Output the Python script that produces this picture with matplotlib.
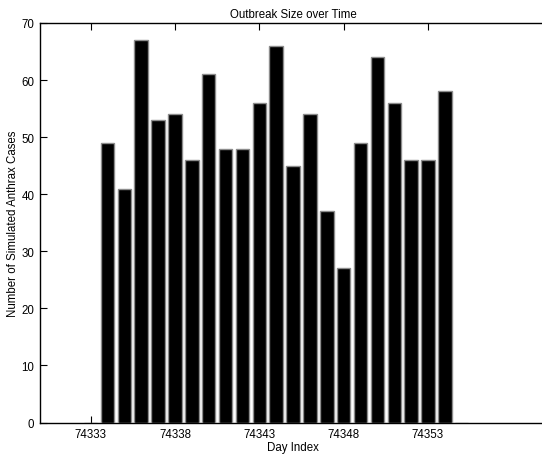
import matplotlib
matplotlib.use("Agg")
import matplotlib.pyplot as plt

days = list(range(74333, 74356))
cases = [0, 49, 41, 67, 53, 54, 46, 61, 48, 48, 56, 66, 45, 54, 37, 27, 49, 64, 56, 46, 46, 58, 0]
xticks = [74333, 74338, 74343, 74348, 74353]
yticks = [0, 10, 20, 30, 40, 50, 60, 70]

plt.rcParams['font.family'] = ['Liberation Sans', 'DejaVu Sans']
fs = 8.3

fig = plt.figure(figsize=(5.42, 4.56), dpi=100)
W, H = 542, 456
left, right_full = 40, 40 + 30 * 16.87
bottom_px, top_px = 423.5, 24
ax = fig.add_axes([left / W, (H - bottom_px) / H, (right_full - left) / W, (bottom_px - top_px) / H])

ax.bar(days, cases, width=0.8, color='black', edgecolor='#8c8c8c', linewidth=1.0, zorder=3)
ax.set_xlim(74330, 74360)
ax.set_ylim(0, 70)
ax.set_xticks(xticks)
ax.set_xticklabels([str(t) for t in xticks])
ax.set_yticks(yticks)
ax.tick_params(direction='in', length=5, width=0.8, labelsize=fs, top=True, right=False, pad=4)
for s in ax.spines.values():
    s.set_linewidth(1.0)
    s.set_color('black')
ax.set_title('Outbreak Size over Time', fontsize=fs, pad=4)
ax.set_xlabel('Day Index', fontsize=fs, labelpad=1)
ax.set_ylabel('Number of Simulated Anthrax Cases', fontsize=fs, labelpad=2)

fig.savefig('out.png', dpi=100)
